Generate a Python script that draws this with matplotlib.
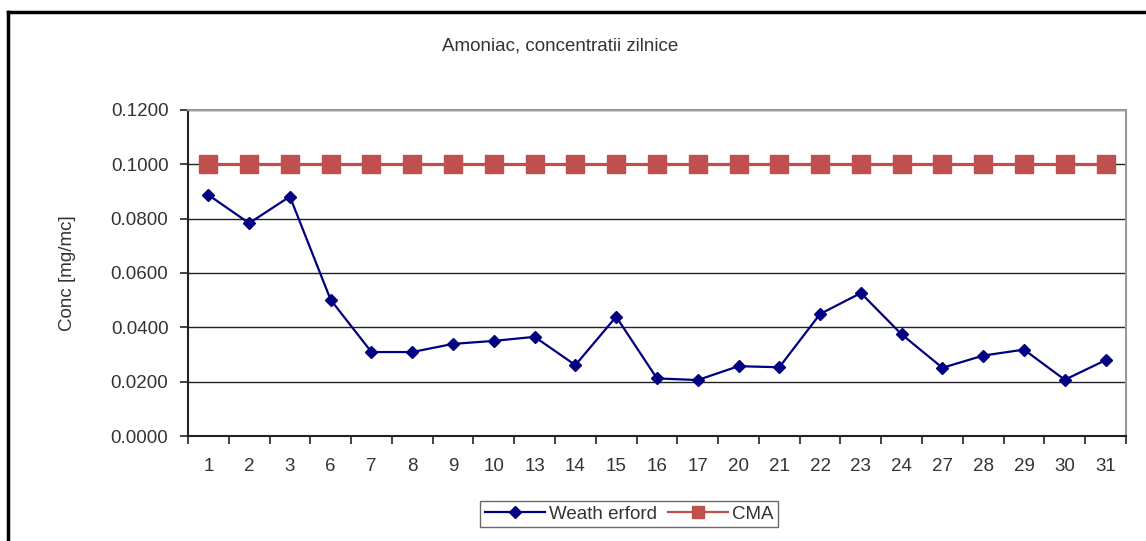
import matplotlib
matplotlib.use('Agg')
import matplotlib.pyplot as plt
from matplotlib.lines import Line2D
from matplotlib.ticker import FormatStrFormatter, FixedLocator
import numpy as np

plt.rcParams['font.family'] = ['Liberation Sans', 'DejaVu Sans']

days = ['1', '2', '3', '6', '7', '8', '9', '10', '13', '14', '15', '16',
        '17', '20', '21', '22', '23', '24', '27', '28', '29', '30', '31']
weatherford = [0.0887, 0.0783, 0.0881, 0.0501, 0.0309, 0.0309, 0.0339, 0.0350,
               0.0365, 0.0261, 0.0439, 0.0212, 0.0206, 0.0257, 0.0253, 0.0449,
               0.0526, 0.0374, 0.0251, 0.0296, 0.0318, 0.0207, 0.0279]
cma = [0.1] * len(days)

navy = '#000080'
red = '#C0504D'
txt = '#333333'
fs = 13.5

fig = plt.figure(figsize=(11.46, 5.41), dpi=100)
ax = fig.add_axes([0.164, 0.194, 0.8185, 0.603])

x = np.arange(len(days))
ax.plot(x, cma, color=red, lw=2.3, marker='s', ms=13.5, mec=red, mfc=red, zorder=3)
ax.plot(x, weatherford, color=navy, lw=1.6, marker='D', ms=6.5, mec=navy, mfc=navy, zorder=4)

ax.set_xlim(-0.5, len(days) - 0.5)
ax.set_ylim(0, 0.12)
ax.set_yticks(np.arange(0, 0.1201, 0.02))
ax.yaxis.set_major_formatter(FormatStrFormatter('%.4f'))
ax.grid(True, axis='y', color='#222222', lw=1.0)
ax.set_axisbelow(True)

ax.set_xticks(x)
ax.set_xticklabels(days)
ax.xaxis.set_minor_locator(FixedLocator(np.arange(-0.5, len(days), 1.0)))
ax.tick_params(axis='x', which='major', length=0, pad=16, labelsize=fs, labelcolor=txt)
ax.tick_params(axis='x', which='minor', length=6, width=1.2, color='#222222', direction='out')
ax.tick_params(axis='y', length=6, width=1.2, color='#222222', pad=8, labelsize=fs, labelcolor=txt)

for s in ['left', 'bottom']:
    ax.spines[s].set_color('#222222')
    ax.spines[s].set_linewidth(1.5)
for s in ['top', 'right']:
    ax.spines[s].set_color('#999999')
    ax.spines[s].set_linewidth(1.5)

ax.set_ylabel('Conc [mg/mc]', fontsize=fs, color=txt, labelpad=25)
fig.text(0.489, 0.915, 'Amoniac, concentratii zilnice', ha='center', va='center',
         fontsize=fs, color=txt)

handles = [Line2D([], [], color=navy, lw=1.6, marker='D', ms=6, mfc=navy, mec=navy),
           Line2D([], [], color=red, lw=1.6, marker='s', ms=8, mfc=red, mec=red)]
leg = fig.legend(handles, ['Weath erford', 'CMA'], loc='center', bbox_to_anchor=(0.549, 0.05),
                 ncol=2, frameon=True, fancybox=False, fontsize=fs, handlelength=3.2,
                 columnspacing=0.6, handletextpad=0.2, borderpad=0.25, edgecolor='#444444')
leg.get_frame().set_linewidth(1.0)
for t in leg.get_texts():
    t.set_color(txt)

# outer chart frame (left and top edges visible)
fig.add_artist(Line2D([0.007, 0.007], [0, 0.978], color='black', lw=2.5, transform=fig.transFigure))
fig.add_artist(Line2D([0.007, 1.0], [0.978, 0.978], color='black', lw=2.5, transform=fig.transFigure))

fig.savefig('out.png', dpi=100)
